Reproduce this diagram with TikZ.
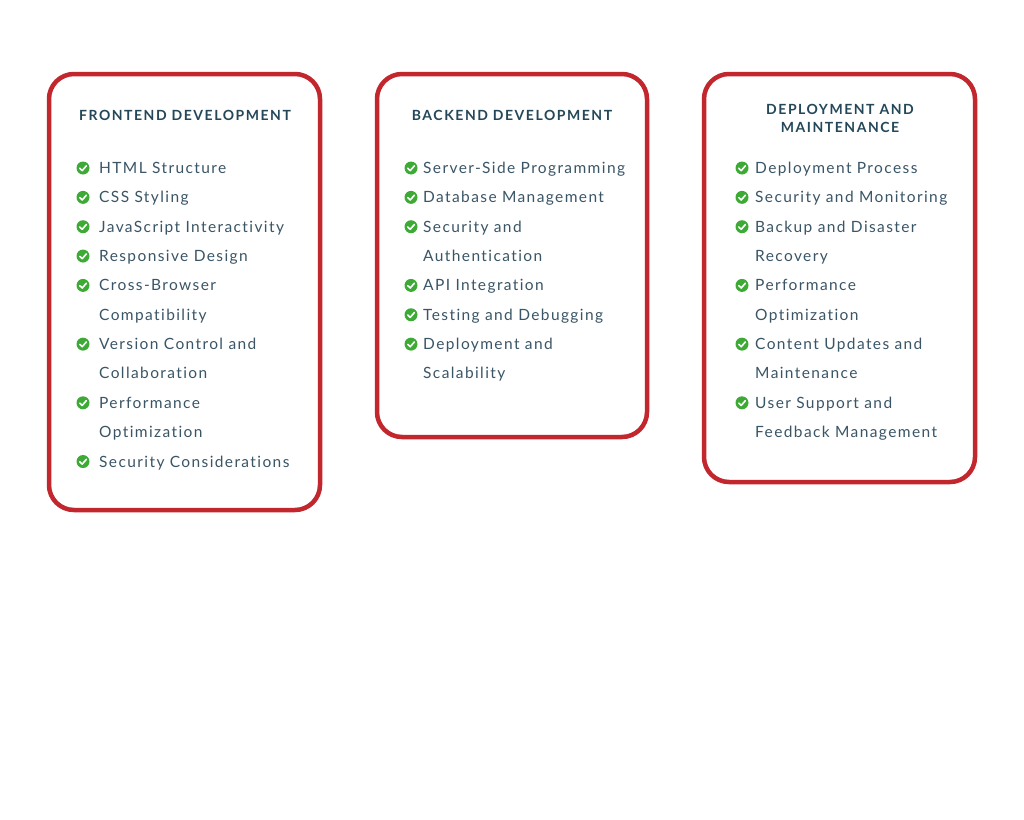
\documentclass[tikz,border=0pt]{standalone}
\usepackage{fontspec}
\setmainfont{Lato}[LetterSpace=9, Ligatures=NoCommon]
\newfontfamily\titlefont{Lato Bold}[LetterSpace=11, Ligatures=NoCommon]
\usetikzlibrary{positioning}
\definecolor{cardred}{HTML}{C1272D}
\definecolor{inktext}{HTML}{3A5566}
\definecolor{inktitle}{HTML}{24485A}
\definecolor{tickgreen}{HTML}{3DAA35}
\tikzset{
  card/.style={draw=cardred, line width=4.5pt, rounded corners=25pt},
  title/.style={font=\titlefont\fontsize{14}{18}\selectfont, text=inktitle, align=center},
  item/.style={font=\fontsize{15.5}{18}\selectfont, text=inktext, anchor=base west, inner sep=0pt},
  tick/.style={fill=tickgreen, circle, minimum size=13pt, inner sep=0pt}
}
\newcommand{\checkmk}[1]{%
  \node[tick] (#1-c) {};
  \draw[white, line width=1.6pt, line cap=round, line join=round]
    ([shift={(-3.2,0.3)}]#1-c.center) -- ([shift={(-0.8,2.6)}]#1-c.center) -- ([shift={(3.4,-2.2)}]#1-c.center);}
\begin{document}
\begin{tikzpicture}[x=1pt, y=-1pt]
  \useasboundingbox (0,0) rectangle (1024,819);
  \fill[white] (0,0) rectangle (1024,819);

  % Cards
  \draw[card] (49,74) rectangle (320,510);
  \draw[card] (377,74) rectangle (647,437);
  \draw[card] (704,74) rectangle (975,482);

  % Titles
  \node[title] (front) at (185,115) {FRONTEND DEVELOPMENT};
  \node[title] (back) at (512,115) {BACKEND DEVELOPMENT};
  \node[title] (deploy) at (840,118) {DEPLOYMENT AND\\MAINTENANCE};

  % Frontend items
  \foreach \i/\c/\t in {0/1/HTML Structure, 1/1/CSS Styling, 2/1/JavaScript Interactivity,
      3/1/Responsive Design, 4/1/Cross-Browser, 5/0/Compatibility, 6/1/Version Control and,
      7/0/Collaboration, 8/1/Performance, 9/0/Optimization, 10/1/Security Considerations} {
    \node[item] (f\i) at (99,173.5+29.35*\i) {\t};
    \ifnum\c=1 \begin{scope}[shift={(83,168+29.35*\i)}]\checkmk{f\i}\end{scope}\fi
  }

  % Backend items
  \foreach \i/\c/\t in {0/1/Server-Side Programming, 1/1/Database Management, 2/1/Security and,
      3/0/Authentication, 4/1/API Integration, 5/1/Testing and Debugging, 6/1/Deployment and,
      7/0/Scalability} {
    \node[item] (b\i) at (423,173.5+29.35*\i) {\t};
    \ifnum\c=1 \begin{scope}[shift={(411,168+29.35*\i)}]\checkmk{b\i}\end{scope}\fi
  }

  % Deployment items
  \foreach \i/\c/\t in {0/1/Deployment Process, 1/1/Security and Monitoring, 2/1/Backup and Disaster,
      3/0/Recovery, 4/1/Performance, 5/0/Optimization, 6/1/Content Updates and,
      7/0/Maintenance, 8/1/User Support and, 9/0/Feedback Management} {
    \node[item] (d\i) at (755,173.5+29.35*\i) {\t};
    \ifnum\c=1 \begin{scope}[shift={(742,168+29.35*\i)}]\checkmk{d\i}\end{scope}\fi
  }
\end{tikzpicture}
\end{document}
